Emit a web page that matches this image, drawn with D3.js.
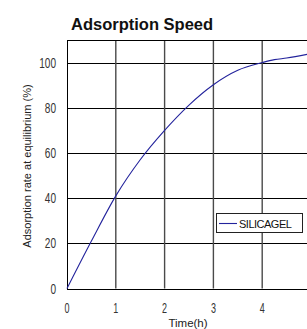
<!DOCTYPE html>
<html>
<head>
<meta charset="utf-8">
<script src="https://cdn.jsdelivr.net/npm/d3@7"></script>
<style>
  body { margin: 0; background: #fff; }
  svg { display: block; }
</style>
</head>
<body>
<svg width="307" height="329"></svg>
<script>
'use strict';

// data
var hours = [0, 0.5, 1, 1.5, 2, 2.5, 3, 3.5, 4, 4.25, 4.5, 5];
var silicagel = [0, 21, 41, 57, 70, 81.2, 90.2, 96.6, 100, 101.3, 102, 104];
var xTicks = [0, 1, 2, 3, 4, 5];
var yTicks = [0, 20, 40, 60, 80, 100];
var seriesName = 'SILICAGEL';

var svg = d3.select('svg');
var W = 307;
var plotLeft = 67, plotTop = 40, plotRight = 311, plotBottom = 288.5;

var x = d3.scaleLinear().domain([0, 5]).range([plotLeft, plotRight]);
var y = d3.scaleLinear().domain([0, 110]).range([plotBottom, plotTop]);

var pts = hours.map(function(h, i){ return [h, silicagel[i]]; });

// horizontal grid
svg.append('g').selectAll('line')
	.data(yTicks)
	.enter().append('line')
	.attr('x1', plotLeft).attr('x2', plotRight)
	.attr('y1', function(d){ return Math.round(y(d)) + 0.5; })
	.attr('y2', function(d){ return Math.round(y(d)) + 0.5; })
	.attr('stroke', '#000').attr('stroke-width', 1);

// vertical grid
svg.append('g').selectAll('line')
	.data(xTicks.slice(1))
	.enter().append('line')
	.attr('x1', function(d){ return x(d); }).attr('x2', function(d){ return x(d); })
	.attr('y1', plotTop).attr('y2', plotBottom)
	.attr('stroke', '#4a4a4a').attr('stroke-width', 1.4);

// frame
svg.append('line').attr('x1', plotLeft + 0.5).attr('x2', plotLeft + 0.5)
	.attr('y1', plotTop).attr('y2', plotBottom + 1).attr('stroke', '#000');
svg.append('line').attr('x1', plotLeft).attr('x2', plotRight)
	.attr('y1', plotTop + 0.5).attr('y2', plotTop + 0.5).attr('stroke', '#000');

// curve
svg.append('path')
	.datum(pts)
	.attr('fill', 'none')
	.attr('stroke', '#23239c')
	.attr('stroke-width', 1.1)
	.attr('d', d3.line()
		.x(function(d){ return x(d[0]); })
		.y(function(d){ return y(d[1]); })
		.curve(d3.curveMonotoneX));

// tick labels (narrow, tall digits)
svg.append('g').selectAll('text')
	.data(yTicks)
	.enter().append('text')
	.attr('transform', function(d){ return 'translate(56,' + (y(d) + 5) + ') scale(0.72,1)'; })
	.attr('text-anchor', 'end')
	.attr('font-family', 'Liberation Sans, Arial, sans-serif')
	.attr('font-size', 14)
	.attr('fill', '#333')
	.text(function(d){ return d; });

svg.append('g').selectAll('text')
	.data(xTicks.filter(function(d){ return x(d) < W - 4; }))
	.enter().append('text')
	.attr('transform', function(d){ return 'translate(' + x(d) + ',312.5) scale(0.6,1)'; })
	.attr('text-anchor', 'middle')
	.attr('font-family', 'Liberation Sans, Arial, sans-serif')
	.attr('font-size', 15)
	.attr('fill', '#333')
	.text(function(d){ return d; });

// titles
svg.append('text')
	.attr('x', 71).attr('y', 30)
	.attr('font-family', 'Liberation Sans, Arial, sans-serif')
	.attr('font-weight', 'bold')
	.attr('font-size', 16.5)
	.attr('fill', '#111')
	.text('Adsorption Speed');

svg.append('text')
	.attr('transform', 'translate(31,166) rotate(-90)')
	.attr('text-anchor', 'middle')
	.attr('font-family', 'Liberation Sans, Arial, sans-serif')
	.attr('font-size', 11)
	.attr('fill', '#222')
	.text('Adsorption rate at equilibrium (%)');

svg.append('text')
	.attr('x', 188).attr('y', 326.5)
	.attr('text-anchor', 'middle')
	.attr('font-family', 'Liberation Sans, Arial, sans-serif')
	.attr('font-size', 11.5)
	.attr('fill', '#222')
	.text('Time(h)');

// legend
var lg = svg.append('g').attr('transform', 'translate(216,213)');
lg.append('rect')
	.attr('x', 0.5).attr('y', 0.5).attr('width', 86).attr('height', 19)
	.attr('fill', '#fff').attr('stroke', '#222');
lg.append('line')
	.attr('x1', 3).attr('x2', 21).attr('y1', 10.5).attr('y2', 10.5)
	.attr('stroke', '#23239c').attr('stroke-width', 1.1);
lg.append('text')
	.attr('x', 23).attr('y', 14.5)
	.attr('font-family', 'Liberation Sans, Arial, sans-serif')
	.attr('font-size', 11)
	.attr('letter-spacing', -0.5)
	.attr('fill', '#111')
	.text(seriesName);
</script>
</body>
</html>
